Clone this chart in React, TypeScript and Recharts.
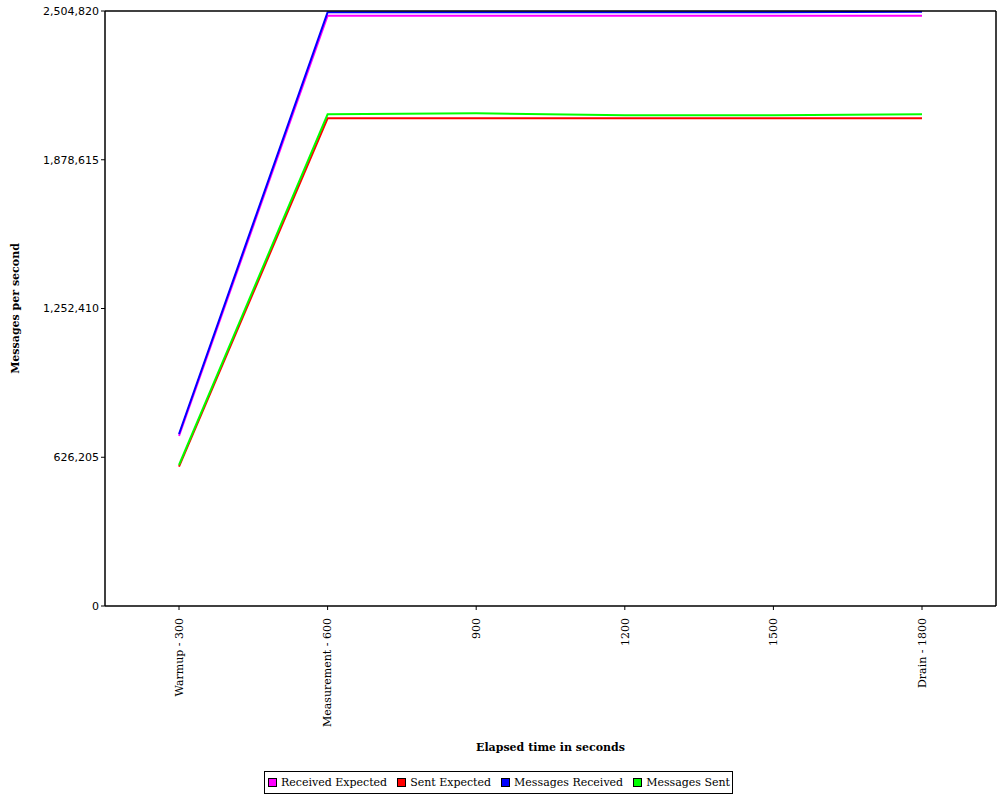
import { LineChart, Line, XAxis, YAxis, Legend, Label } from 'recharts';

const CATEGORIES = ['Warmup - 300', 'Measurement - 600', '900', '1200', '1500', 'Drain - 1800'];

const RECEIVED_EXPECTED = [716000, 2485000, 2485000, 2485000, 2485000, 2485000];
const SENT_EXPECTED = [586500, 2053100, 2053100, 2053100, 2053100, 2053100];
const MESSAGES_RECEIVED = [724000, 2499500, 2499800, 2499300, 2499600, 2501500];
const MESSAGES_SENT = [593600, 2069900, 2074100, 2065700, 2065700, 2069900];

const Y_TICKS = [0, 626205, 1252410, 1878615, 2504820];

const SERIES = [
  { key: 'receivedExpected', name: 'Received Expected', color: '#ff00ff' },
  { key: 'sentExpected', name: 'Sent Expected', color: '#ff0000' },
  { key: 'messagesReceived', name: 'Messages Received', color: '#0000ff' },
  { key: 'messagesSent', name: 'Messages Sent', color: '#00ff00' },
];

const data = CATEGORIES.map((label, i) => ({
  label,
  receivedExpected: RECEIVED_EXPECTED[i],
  sentExpected: SENT_EXPECTED[i],
  messagesReceived: MESSAGES_RECEIVED[i],
  messagesSent: MESSAGES_SENT[i],
}));

const serif = '"DejaVu Serif", serif';
const sans = '"DejaVu Sans", sans-serif';

const XTick = ({ x, y, payload }: any) => (
  <g transform={`translate(${x},${y + 6})`}>
    <text transform="rotate(-90)" textAnchor="end" dy="0.35em" fontFamily={serif} fontSize={11} fill="#000">
      {payload.value}
    </text>
  </g>
);

const LegendBox = () => (
  <div style={{ display: 'flex', justifyContent: 'center', height: 30 }}>
    <div
      style={{
        marginTop: 5,
        height: 21,
        border: '1px solid #000',
        display: 'flex',
        alignItems: 'center',
        padding: '0 2px 0 3px',
        fontFamily: serif,
        fontSize: 11,
        color: '#000',
        whiteSpace: 'nowrap',
      }}
    >
      {SERIES.map((s, i) => (
        <span
          key={s.key}
          style={{ display: 'inline-flex', alignItems: 'center', marginRight: i === SERIES.length - 1 ? 0 : 10 }}
        >
          <span
            style={{
              width: 7,
              height: 7,
              background: s.color,
              border: '1px solid #000',
              marginRight: 4,
              display: 'inline-block',
            }}
          />
          {s.name}
        </span>
      ))}
    </div>
  </div>
);

export default function App() {
  return (
    <div style={{ position: 'absolute', left: 0, top: 0, width: 1000, height: 800, background: '#fff' }}>
      <LineChart width={1000} height={800} data={data} margin={{ top: 10, right: 3, bottom: 4, left: 0 }}>
        <XAxis
          dataKey="label"
          height={160}
          interval={0}
          padding={{ left: 74, right: 74 }}
          axisLine={{ stroke: '#000', strokeWidth: 1.5 }}
          tickLine={{ stroke: '#000' }}
          tickSize={4}
          tick={<XTick />}
        >
          <Label
            value="Elapsed time in seconds"
            position="insideBottom"
            offset={15}
            style={{ fontFamily: serif, fontSize: 11, fontWeight: 'bold', fill: '#000' }}
          />
        </XAxis>
        <XAxis
          xAxisId="top"
          orientation="top"
          type="number"
          domain={[0, 1]}
          height={1}
          tick={false}
          tickLine={false}
          axisLine={{ stroke: '#000', strokeWidth: 1.5 }}
        />
        <YAxis
          width={105}
          domain={[0, 2504820]}
          ticks={Y_TICKS}
          interval={0}
          allowDataOverflow
          axisLine={{ stroke: '#000', strokeWidth: 1.5 }}
          tickLine={{ stroke: '#000' }}
          tickSize={4}
          tickFormatter={(v: number) => v.toLocaleString('en-US')}
          tick={{ fontFamily: sans, fontSize: 11, fill: '#000' }}
        >
          <Label
            value="Messages per second"
            angle={-90}
            position="insideLeft"
            offset={15}
            style={{ textAnchor: 'middle', fontFamily: serif, fontSize: 11, fontWeight: 'bold', fill: '#000' }}
          />
        </YAxis>
        <YAxis
          yAxisId="right"
          orientation="right"
          type="number"
          domain={[0, 1]}
          width={1}
          tick={false}
          tickLine={false}
          axisLine={{ stroke: '#000', strokeWidth: 1.5 }}
        />
        <Legend verticalAlign="bottom" content={<LegendBox />} />
        {SERIES.map((s) => (
          <Line
            key={s.key}
            type="linear"
            dataKey={s.key}
            name={s.name}
            stroke={s.color}
            strokeWidth={2}
            dot={false}
            isAnimationActive={false}
          />
        ))}
      </LineChart>
    </div>
  );
}
